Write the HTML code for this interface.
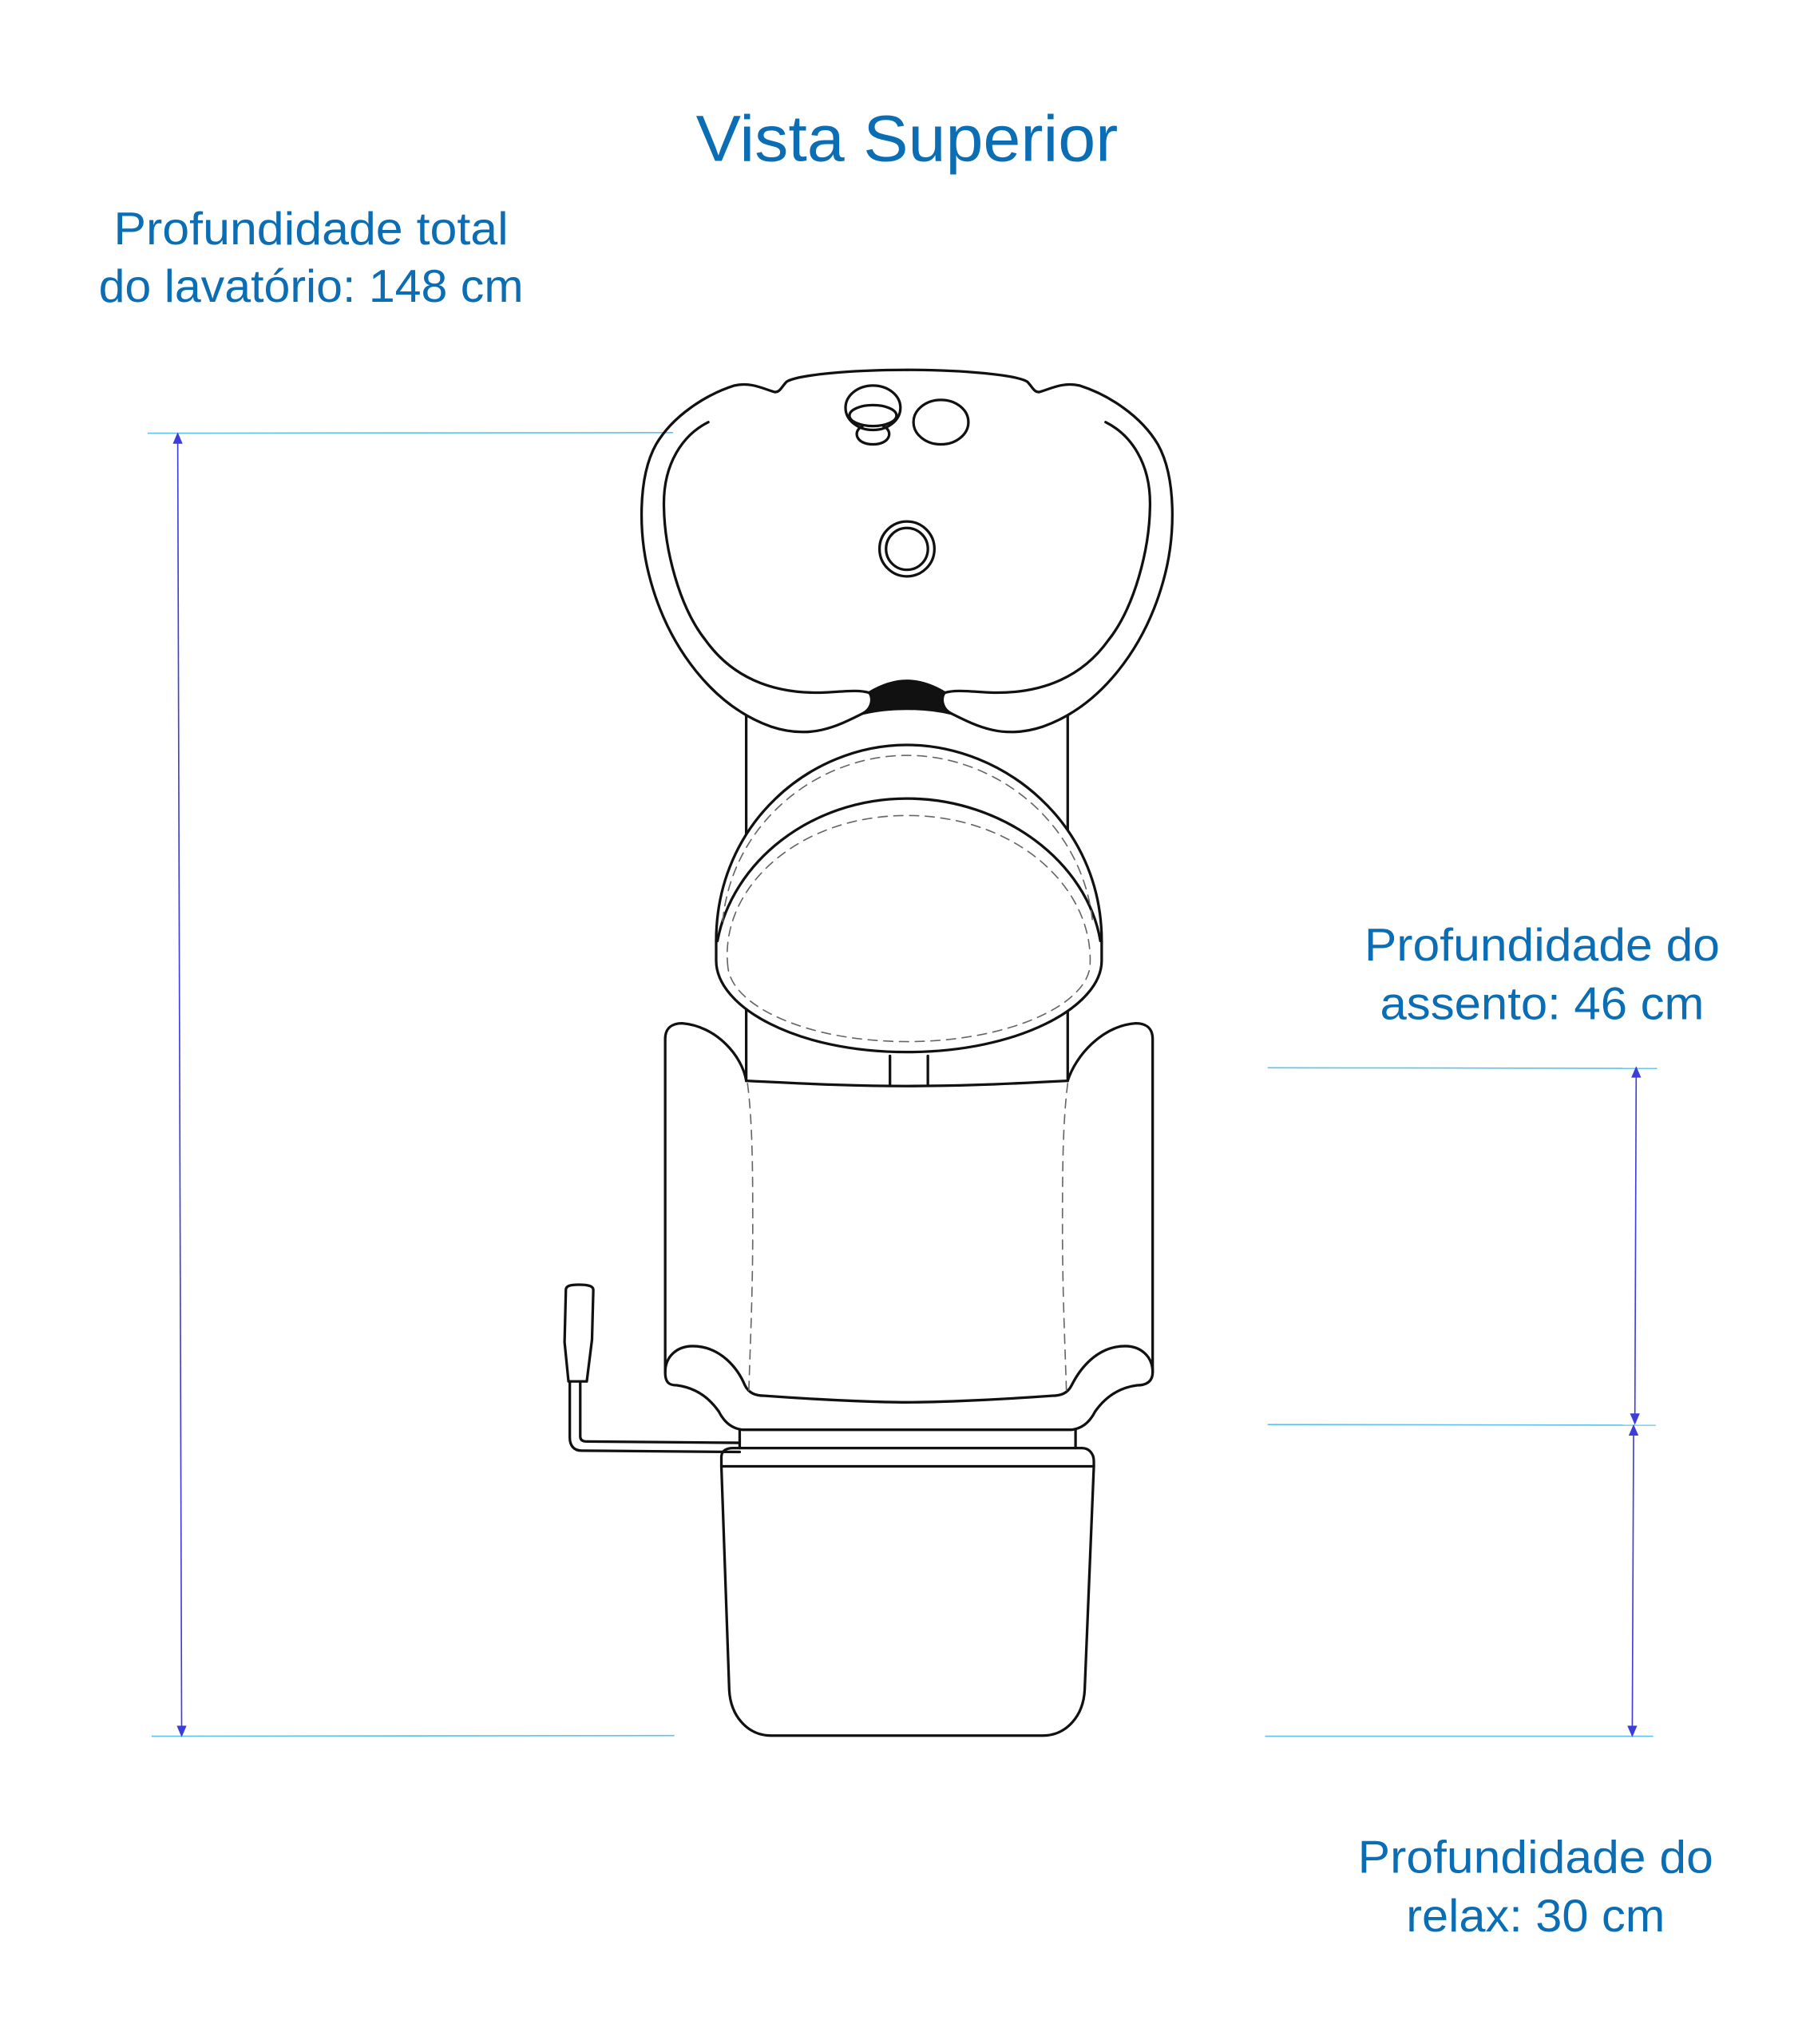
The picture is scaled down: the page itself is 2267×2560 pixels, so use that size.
<!DOCTYPE html>
<html><head><meta charset="utf-8"><style>
html,body{margin:0;padding:0;background:#fff;}
svg{display:block;}
text{font-family:"Liberation Sans",sans-serif;fill:#0b6db3;}
</style></head><body>
<svg width="2267" height="2560" viewBox="0 0 1385 1564" xmlns="http://www.w3.org/2000/svg">
<rect width="1385" height="1564" fill="#fff"/>
<text x="694" y="123" font-size="50" text-anchor="middle" textLength="323" lengthAdjust="spacingAndGlyphs">Vista Superior</text>
<text x="238" y="187" font-size="35" text-anchor="middle" textLength="302" lengthAdjust="spacingAndGlyphs">Profundidade total</text>
<text x="238" y="231" font-size="35" text-anchor="middle" textLength="325" lengthAdjust="spacingAndGlyphs">do lavatório: 148 cm</text>
<text x="1180" y="735" font-size="35" text-anchor="middle" textLength="272" lengthAdjust="spacingAndGlyphs">Profundidade do</text>
<text x="1180" y="780" font-size="35" text-anchor="middle" textLength="248" lengthAdjust="spacingAndGlyphs">assento: 46 cm</text>
<text x="1175" y="1433" font-size="35" text-anchor="middle" textLength="272" lengthAdjust="spacingAndGlyphs">Profundidade do</text>
<text x="1175" y="1478" font-size="35" text-anchor="middle" textLength="198" lengthAdjust="spacingAndGlyphs">relax: 30 cm</text>

<g stroke="#5cc3ec" stroke-width="1">
<line x1="113" y1="331.5" x2="515" y2="331"/>
<line x1="116" y1="1328.5" x2="516" y2="1328"/>
<line x1="970" y1="817" x2="1268" y2="817.5"/>
<line x1="970" y1="1090" x2="1267" y2="1090.5"/>
<line x1="968" y1="1328.5" x2="1265" y2="1328.5"/>
</g>
<g stroke="#3d3ddc" stroke-width="1" fill="#3d3ddc">
<line x1="136" y1="336" x2="139" y2="1325"/>
<path d="M136 332 l-3 7 h6z"/><path d="M139 1328 l-3 -7 h6z"/>
<line x1="1252" y1="821" x2="1251" y2="1086"/>
<path d="M1252 817 l-3 7 h6z"/><path d="M1251 1089 l-3 -7 h6z"/>
<line x1="1250" y1="1095" x2="1249" y2="1325"/>
<path d="M1250 1091 l-3 7 h6z"/><path d="M1249 1328 l-3 -7 h6z"/>
</g>

<g fill="none" stroke="#111" stroke-width="2" stroke-linejoin="round" stroke-linecap="round">
<line x1="571" y1="548" x2="571" y2="827"/>
<line x1="817" y1="548" x2="817" y2="827"/>
<path d="M694 283 C650 283 610 287 602 292 C598 296 597 300 593 300 C585 298 575 292 562 295 C540 302 515 318 502 340 C488 365 488 410 498 445 C512 495 545 540 590 556 C620 566 640 556 660 546 C668 542 668 533 665 530 C655 527 640 530 625 530 C590 530 560 518 540 490 C520 465 508 420 508 385 C508 355 522 333 542 323"/>
<path d="M694 283 C738 283 778 287 786 292 C790 296 791 300 795 300 C803 298 813 292 826 295 C848 302 873 318 886 340 C900 365 900 410 890 445 C876 495 843 540 798 556 C768 566 748 556 728 546 C720 542 720 533 723 530 C733 527 748 530 763 530 C798 530 828 518 848 490 C868 465 880 420 880 385 C880 355 866 333 846 323"/>
<path d="M665 530 C685 518 703 518 723 530 C718 535 718 543 728 546 C708 541 680 541 660 546 C670 543 670 535 665 530Z" fill="#111"/>
<ellipse cx="668" cy="312" rx="21" ry="17"/>
<ellipse cx="668" cy="318" rx="18" ry="8"/>
<path d="M660 326 C652 330 655 340 668 340 C681 340 684 330 676 326"/>
<ellipse cx="720" cy="323" rx="21" ry="17"/>
<circle cx="694" cy="420" r="21"/>
<circle cx="694" cy="420" r="16"/>
<path d="M548 720 C548 630 620 570 694 570 C768 570 843 630 843 720 L843 735 C843 770 780 805 694 805 C608 805 548 770 548 735 Z" fill="#fff"/>
<path d="M549 720 C560 660 620 611 694 611 C768 611 832 660 842 720"/>
<g stroke="#666" stroke-width="1" stroke-dasharray="7 5">
<path d="M553 705 C560 630 625 578 694 578 C763 578 828 630 836 705"/>
<path d="M557 740 C550 680 610 624 694 624 C778 624 838 680 834 740 C830 770 770 797 694 797 C618 797 560 770 557 740"/>
</g>
<path d="M571 827 C630 830 660 831 694 831 C728 831 760 830 817 827"/>
<line x1="681" y1="808" x2="681" y2="830"/>
<line x1="710" y1="808" x2="710" y2="830"/>
<path d="M509 1050 L509 795 C509 786 515 783 522 783 C548 785 568 808 571 827"/>
<path d="M882 1050 L882 795 C882 786 876 783 869 783 C843 785 823 808 817 827"/>
<path d="M509 1050 C509 1038 518 1030 530 1030 C552 1030 565 1048 570 1060 C573 1066 578 1068 585 1068 C640 1072 680 1073 694 1073 C708 1073 750 1072 805 1068 C812 1068 817 1066 820 1060 C826 1048 839 1030 861 1030 C873 1030 882 1038 882 1050 C882 1058 876 1060 870 1060 C855 1062 845 1070 838 1080 C834 1088 828 1093 820 1094 L568 1094 C560 1093 554 1088 550 1080 C543 1070 533 1062 518 1060 C512 1060 509 1058 509 1050 Z"/>
<g stroke="#666" stroke-width="1" stroke-dasharray="7 5">
<path d="M572 829 C576 860 576 900 576 940 C576 990 574 1030 573 1064"/>
<path d="M817 829 C813 860 813 900 813 940 C813 990 815 1030 816 1064"/>
</g>
<line x1="566" y1="1094" x2="566" y2="1108"/>
<line x1="823" y1="1094" x2="823" y2="1108"/>
<path d="M552 1122 L552 1115 C552 1110 556 1108 561 1108 L828 1108 C833 1108 837 1112 837 1118 L837 1122 Z"/>
<path d="M552 1122 L558 1293 C559 1313 572 1328 590 1328 L798 1328 C816 1328 829 1313 830 1293 L837 1122"/>
<path d="M433 987 C433 984 436 983 443 983 C450 983 454 984 454 987 L453 1025 L449 1057 L435 1057 L432 1027 Z"/>
<path d="M436 1057 L436 1100 C436 1106 439 1110 445 1110 L566 1111"/>
<path d="M444 1057 L444 1099 C444 1102 446 1103 449 1103 L566 1104"/>
</g>
</svg>
</body></html>
